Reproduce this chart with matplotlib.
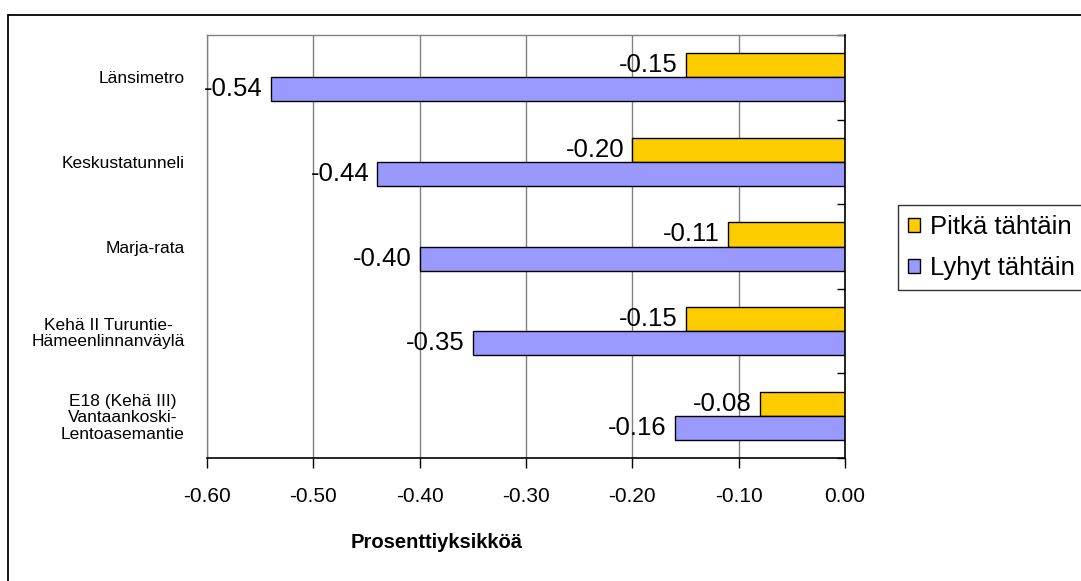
import matplotlib
matplotlib.use("Agg")
import matplotlib.pyplot as plt
from matplotlib.patches import Rectangle
from matplotlib.ticker import FixedLocator
import numpy as np

plt.rcParams['font.family'] = ['Liberation Sans', 'DejaVu Sans']

# Data
categories = [
    "Länsimetro",
    "Keskustatunneli",
    "Marja-rata",
    "Kehä II Turuntie-\nHämeenlinnanväylä",
    "E18 (Kehä III)\nVantaankoski-\nLentoasemantie",
]
pitka = [-0.15, -0.20, -0.11, -0.15, -0.08]   # Pitkä tähtäin
lyhyt = [-0.54, -0.44, -0.40, -0.35, -0.16]   # Lyhyt tähtäin
series_names = ["Pitkä tähtäin", "Lyhyt tähtäin"]
x_ticks = [-0.60, -0.50, -0.40, -0.30, -0.20, -0.10, 0.00]
x_tick_labels = ["-0.60", "-0.50", "-0.40", "-0.30", "-0.20", "-0.10", "0.00"]
x_label = "Prosenttiyksikköä"

W, H = 1081, 581
fig = plt.figure(figsize=(W / 100, H / 100), dpi=100)
ax = fig.add_axes([207 / W, 1 - 458 / H, 638 / W, 423 / H])

y = np.arange(len(categories))
bh = 0.284
c_pitka = "#FFCC00"
c_lyhyt = "#9999FF"

b1 = ax.barh(y - bh / 2, pitka, height=bh, color=c_pitka, edgecolor="black",
             linewidth=1.0, zorder=3, label=series_names[0])
b2 = ax.barh(y + bh / 2, lyhyt, height=bh, color=c_lyhyt, edgecolor="black",
             linewidth=1.0, zorder=3, label=series_names[1])

for bars, vals in ((b1, pitka), (b2, lyhyt)):
    for rect, v in zip(bars, vals):
        ax.annotate(f"{v:.2f}", xy=(v, rect.get_y() + rect.get_height() / 2),
                    xytext=(-8, 0), textcoords="offset pixels",
                    ha="right", va="center", fontsize=18.5, color="black", zorder=4)

ax.set_xlim(-0.6, 0.0)
ax.set_ylim(len(categories) - 0.5, -0.5)

# x axis
ax.xaxis.set_major_locator(FixedLocator(x_ticks))
ax.set_xticklabels(x_tick_labels)
ax.tick_params(axis="x", which="major", direction="out", length=7, width=1,
               pad=14, labelsize=15, color="black")
ax.grid(axis="x", color="#808080", linewidth=1.0, zorder=0)

# y axis: category labels on the left, boundary ticks on the zero line
ax.set_yticks(y)
ax.set_yticklabels(categories, fontsize=12.5, multialignment="center",
                   linespacing=1.12)
ax.tick_params(axis="y", which="major", length=0, pad=16)
ax.yaxis.set_minor_locator(FixedLocator(np.arange(-0.5, len(categories), 1.0)))
ax.tick_params(axis="y", which="minor", left=False, right=True,
               direction="in", length=6, width=1, color="black")

for side in ("top", "left"):
    ax.spines[side].set_color("#808080")
    ax.spines[side].set_linewidth(1.0)
for side in ("right", "bottom"):
    ax.spines[side].set_color("black")
    ax.spines[side].set_linewidth(1.2)
    ax.spines[side].set_zorder(5)

fig.text(437 / W, 1 - 543 / H, x_label, ha="center", va="center",
         fontsize=14.5, fontweight="bold")

# Legend
leg = ax.legend(handles=[b1, b2], labels=series_names,
                loc="upper left", bbox_to_anchor=(898 / W, 1 - 205 / H),
                bbox_transform=fig.transFigure, fontsize=18.5, frameon=True,
                fancybox=False, shadow=False, borderpad=0.4, labelspacing=0.65,
                handlelength=0.45, handleheight=0.45, handletextpad=0.4,
                borderaxespad=0)
leg.get_frame().set_edgecolor("black")
leg.get_frame().set_linewidth(1.0)

# Chart area border
fig.patches.append(Rectangle((8 / W, -0.2), 1.5, 1.2 - 15 / H,
                             transform=fig.transFigure, fill=False,
                             edgecolor="black", linewidth=1.3))

fig.savefig("out.png", dpi=100)
